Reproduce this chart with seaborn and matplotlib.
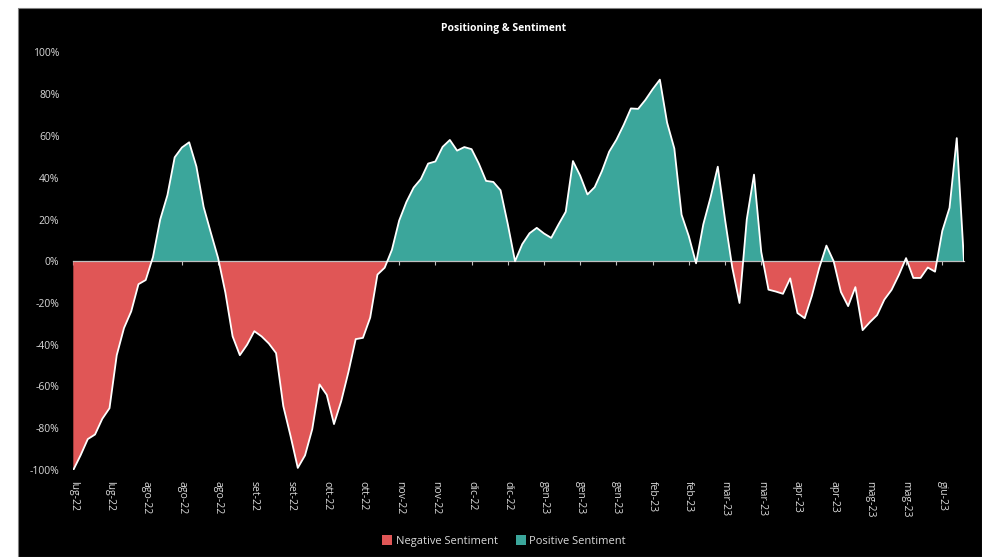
import matplotlib
matplotlib.use("Agg")
import matplotlib.pyplot as plt
from matplotlib.patches import Patch, Rectangle
import numpy as np
import pandas as pd
import seaborn as sns

title = "Positioning & Sentiment"
tick_labels = ["lug-22", "lug-22", "ago-22", "ago-22", "ago-22", "set-22", "set-22",
               "ott-22", "ott-22", "nov-22", "nov-22", "dic-22", "dic-22",
               "gen-23", "gen-23", "gen-23", "feb-23", "feb-23", "mar-23", "mar-23",
               "apr-23", "apr-23", "mag-23", "mag-23", "giu-23"]
series_names = ["Negative Sentiment", "Positive Sentiment"]
sentiment = [
    -100, -93, -85.2, -83, -75.5, -70.4, -45, -32, -24, -11,
    -9, 2, 20, 31.7, 49.8, 54.5, 57, 45.4, 26, 13.6,
    1.5, -15, -36, -45, -40, -33.5, -36, -39.4, -44, -69.4,
    -83.7, -99, -93, -80.4, -59, -64, -78, -67, -53, -37.3,
    -36.7, -27, -6.4, -3.1, 5.5, 19.5, 28.4, 35.3, 39.4, 46.8,
    47.8, 54.8, 58.1, 53, 54.7, 53.7, 46.8, 38.5, 38, 34,
    17.8, 0, 8.2, 13.4, 16, 13.3, 11.2, 17.6, 23.7, 48,
    41, 32, 35.5, 43.2, 52.5, 58.2, 65.3, 73.2, 73, 77.3,
    82.4, 87, 66.4, 54, 22.3, 12, -1, 17.7, 30.6, 45.3,
    20, -3, -20, 20, 41.5, 4.5, -13.6, -14.5, -15.6, -8.2,
    -24.8, -27.3, -16.5, -3.3, 7.5, 0, -14.7, -21.5, -12.4, -33,
    -29.2, -25.8, -18.4, -13.7, -6.6, 1.5, -8, -8, -3, -5,
    14.5, 25.6, 59, 0,
]
tick_every = 5

RED = "#e05656"
TEAL = "#3ba69b"
TXT = "#d9d9d9"

df = pd.DataFrame({"idx": np.arange(len(sentiment)), "value": np.array(sentiment, dtype=float)})

sns.set_theme(style="dark")
plt.rcParams["font.family"] = ["Open Sans", "DejaVu Sans"]

fig = plt.figure(figsize=(9.82, 5.57), dpi=100, facecolor="white")
fig.patches.append(Rectangle((18 / 982, 0), 1 - 18 / 982, 1 - 8 / 557,
                             transform=fig.transFigure, facecolor="black",
                             edgecolor="#808080", linewidth=0.8, zorder=-10))

ax = fig.add_axes([73.3 / 982, 87 / 557, (964 - 73.3) / 982, (470 - 52.5) / 557])
ax.set_zorder(1)
ax.set_facecolor("black")

x = df["idx"].to_numpy()
v = df["value"].to_numpy()
ax.fill_between(x, v, 0, where=v <= 0, interpolate=True, color=RED, linewidth=0, zorder=1)
ax.fill_between(x, v, 0, where=v >= 0, interpolate=True, color=TEAL, linewidth=0, zorder=1)
sns.lineplot(data=df, x="idx", y="value", ax=ax, color="white", linewidth=1.3, zorder=3)

ax.set_xlim(0, len(sentiment) - 1)
ax.set_ylim(-100, 100)
ax.set_xlabel("")
ax.set_ylabel("")
ax.grid(False)

yt = np.arange(-100, 101, 20)
ax.set_yticks(yt)
ax.set_yticklabels([f"{t}%" for t in yt], color=TXT, fontsize=7.5)
ax.tick_params(axis="y", length=0, pad=10)

ticks = np.arange(0, len(sentiment), tick_every)[:len(tick_labels)]
for s in ["left", "right", "top"]:
    ax.spines[s].set_visible(False)
ax.spines["bottom"].set_position(("data", 0))
ax.spines["bottom"].set_color("#bfbfbf")
ax.spines["bottom"].set_linewidth(0.9)
ax.spines["bottom"].set_zorder(2)
ax.set_xticks(ticks)
ax.set_xticklabels([])
ax.tick_params(axis="x", direction="out", length=3, width=0.8, color="#bfbfbf", bottom=True)

sec = ax.secondary_xaxis(0)
sec.set_xticks(ticks)
sec.set_xticklabels(tick_labels, rotation=-90, color=TXT, fontsize=7.5)
sec.tick_params(axis="x", length=0, pad=8)
sec.spines["bottom"].set_visible(False)

fig.text(504 / 982, 1 - 28 / 557, title, ha="center", va="center",
         color="white", fontsize=7.5, fontweight="bold")

handles = [Patch(facecolor=RED, edgecolor="none"), Patch(facecolor=TEAL, edgecolor="none")]
leg = fig.legend(handles, series_names, loc="center", bbox_to_anchor=(504 / 982, 1 - 541 / 557),
                 ncol=2, frameon=False, fontsize=8, handlelength=0.9, handleheight=0.9,
                 handletextpad=0.3, columnspacing=1.6)
for t in leg.get_texts():
    t.set_color(TXT)

fig.savefig("out.png", dpi=100, facecolor=fig.get_facecolor())
